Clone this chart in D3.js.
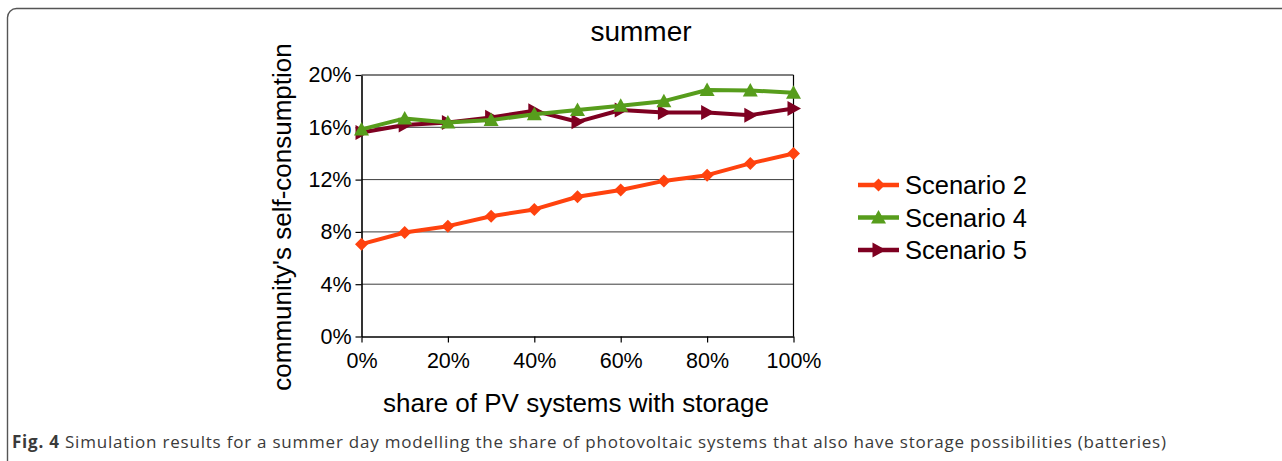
<!DOCTYPE html>
<html>
<head>
<meta charset="utf-8">
<script src="https://cdn.jsdelivr.net/npm/d3@7"></script>
<style>
  body { margin: 0; background: #fff; }
  svg { display: block; }
</style>
</head>
<body>
<div id="chart-container"></div>
<script>
const WIDTH = 1282;
const HEIGHT = 461;
const MARGIN = {top: 75, right: 488.5, bottom: 124.5, left: 361.5};

// share of PV systems with storage (%)
const shares = [0, 10, 20, 30, 40, 50, 60, 70, 80, 90, 100];
const scenario2 = [7.06, 7.95, 8.44, 9.2, 9.72, 10.69, 11.2, 11.9, 12.34, 13.24, 14.0];
const scenario4 = [15.84, 16.68, 16.37, 16.55, 16.99, 17.32, 17.65, 18.0, 18.85, 18.82, 18.64];
const scenario5 = [15.6, 16.17, 16.37, 16.76, 17.26, 16.42, 17.32, 17.14, 17.14, 16.93, 17.44];
const seriesNames = ["Scenario 2", "Scenario 4", "Scenario 5"];
const yTicks = [0, 4, 8, 12, 16, 20];
const xTicks = [0, 20, 40, 60, 80, 100];

const COLORS = {"Scenario 2": "#ff420e", "Scenario 4": "#579d1c", "Scenario 5": "#7e0021"};
const SYMBOLS = {"Scenario 2": "diamond", "Scenario 4": "up", "Scenario 5": "right"};
const FONT = "Liberation Sans, Arial, sans-serif";

setup();

function setup() {
    const svg = d3.select("#chart-container").append("svg")
    .attr("width", WIDTH)
    .attr("height", HEIGHT);

    // figure frame
    svg.append("rect")
    .attr("x", 7.5).attr("y", 8.5)
    .attr("width", 1300).attr("height", 500)
    .attr("rx", 9)
    .attr("fill", "none")
    .attr("stroke", "#555")
    .attr("stroke-width", 1.4);

    const plotW = WIDTH - MARGIN.left - MARGIN.right;
    const plotH = HEIGHT - MARGIN.top - MARGIN.bottom;

    const xScale = d3.scaleLinear().domain([0, 100]).range([0, plotW]);
    const yScale = d3.scaleLinear().domain([0, 20]).range([plotH, 0]);

    const chart = svg.append("g")
    .attr("transform", `translate(${MARGIN.left},${MARGIN.top})`);

    // gridlines
    chart.append("g")
    .selectAll("line")
    .data(yTicks.filter(d => d > 0 && d < 20))
    .enter().append("line")
    .attr("x1", 0).attr("x2", plotW)
    .attr("y1", d => yScale(d)).attr("y2", d => yScale(d))
    .attr("stroke", "#3c3c3c")
    .attr("stroke-width", 1);

    // plot frame (top and right)
    chart.append("line")
    .attr("x1", 0).attr("x2", plotW).attr("y1", 0).attr("y2", 0)
    .attr("stroke", "#000").attr("stroke-width", 1.2);
    chart.append("line")
    .attr("x1", plotW).attr("x2", plotW).attr("y1", 0).attr("y2", plotH)
    .attr("stroke", "#000").attr("stroke-width", 1.2);

    // Y axis
    const yAxis = chart.append("g")
    .call(d3.axisLeft(yScale).tickValues(yTicks).tickFormat(d => d + "%").tickSize(6).tickSizeOuter(0));
    yAxis.select(".domain").attr("stroke", "#000").attr("stroke-width", 1.6);
    yAxis.selectAll(".tick line").attr("stroke", "#000").attr("stroke-width", 1.2);
    yAxis.selectAll(".tick text")
    .attr("font-family", FONT)
    .attr("font-size", 21.5)
    .attr("fill", "#000")
    .attr("x", -10);

    // X axis
    const xAxis = chart.append("g")
    .attr("transform", `translate(0,${plotH})`)
    .call(d3.axisBottom(xScale).tickValues(xTicks).tickFormat(d => d + "%").tickSize(6).tickSizeOuter(0));
    xAxis.select(".domain").attr("stroke", "#000").attr("stroke-width", 1.6);
    xAxis.selectAll(".tick line").attr("stroke", "#000").attr("stroke-width", 1.2);
    xAxis.selectAll(".tick text")
    .attr("font-family", FONT)
    .attr("font-size", 21.5)
    .attr("fill", "#000")
    .attr("y", 16);

    const series = [
        {name: "Scenario 2", values: scenario2},
        {name: "Scenario 5", values: scenario5},
        {name: "Scenario 4", values: scenario4}
    ];

    const line = d3.line()
    .x((d, i) => xScale(shares[i]))
    .y(d => yScale(d));

    series.forEach(s => {
        const g = chart.append("g");
        g.append("path")
        .datum(s.values)
        .attr("d", line)
        .attr("fill", "none")
        .attr("stroke", COLORS[s.name])
        .attr("stroke-width", 4)
        .attr("stroke-linejoin", "round");
        g.selectAll("path.marker")
        .data(s.values)
        .enter().append("path")
        .attr("class", "marker")
        .attr("transform", (d, i) => `translate(${xScale(shares[i])},${yScale(d)})`)
        .attr("d", markerPath(SYMBOLS[s.name]))
        .attr("fill", COLORS[s.name]);
    });

    // title
    svg.append("text")
    .attr("x", 641).attr("y", 41)
    .attr("text-anchor", "middle")
    .attr("font-family", FONT)
    .attr("font-size", 28)
    .text("summer");

    // axis titles
    svg.append("text")
    .attr("transform", "translate(291,217) rotate(-90)")
    .attr("text-anchor", "middle")
    .attr("font-family", FONT)
    .attr("font-size", 26)
    .text("community's self-consumption");

    svg.append("text")
    .attr("x", 576).attr("y", 412)
    .attr("text-anchor", "middle")
    .attr("font-family", FONT)
    .attr("font-size", 26)
    .text("share of PV systems with storage");

    // legend
    const legend = svg.append("g").attr("transform", "translate(858,185)");
    seriesNames.forEach((name, i) => {
        const row = legend.append("g").attr("transform", `translate(0,${i * 32.5})`);
        row.append("line")
        .attr("x1", 0).attr("x2", 41)
        .attr("stroke", COLORS[name]).attr("stroke-width", 4.5);
        row.append("path")
        .attr("transform", "translate(20.5,0)")
        .attr("d", markerPath(SYMBOLS[name]))
        .attr("fill", COLORS[name]);
        row.append("text")
        .attr("x", 47).attr("y", 9)
        .attr("font-family", FONT)
        .attr("font-size", 25.5)
        .text(name);
    });

    // caption
    const cap = svg.append("text")
    .attr("x", 12).attr("y", 448)
    .attr("font-family", "Open Sans, Noto Sans, sans-serif")
    .attr("font-size", 17)
    .attr("letter-spacing", 0.78)
    .attr("fill", "#3a3a3a");
    cap.append("tspan").attr("font-weight", "bold").text("Fig. 4");
    cap.append("tspan").text(" Simulation results for a summer day modelling the share of photovoltaic systems that also have storage possibilities (batteries)");
}

function markerPath(kind) {
    const r = 6.5;
    if (kind === "diamond") return `M0,${-r}L${r},0L0,${r}L${-r},0Z`;
    if (kind === "up") return `M0,${-r - 1}L${r + 1},${r - 0.5}L${-r - 1},${r - 0.5}Z`;
    return `M${r + 1},0L${-r + 0.5},${-r - 1}L${-r + 0.5},${r + 1}Z`;
}
</script>
</body>
</html>
